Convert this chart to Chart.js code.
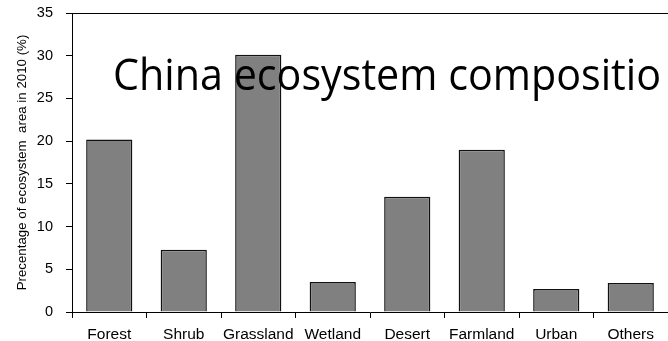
<!DOCTYPE html>
<html>
<head>
<meta charset="utf-8">
<script src="https://cdn.jsdelivr.net/npm/chart.js@4/dist/chart.umd.min.js"></script>
<style>
  html, body { margin: 0; padding: 0; background: #fff; overflow: hidden; }
  #wrap { width: 668px; height: 341px; }
</style>
</head>
<body>
<div id="wrap"><canvas id="c" width="668" height="341"></canvas></div>
<script>
// Ecosystem types and their share of China's land area in 2010 (%)
const categories = ['Forest', 'Shrub', 'Grassland', 'Wetland', 'Desert', 'Farmland', 'Urban', 'Others'];
const shares = [20.2, 7.3, 30.1, 3.5, 13.5, 19.0, 2.7, 3.4];
const yTicks = [0, 5, 10, 15, 20, 25, 30, 35];
const yTitle = 'Precentage of ecosystem  area in 2010 (%)';
const overlayTitle = 'China ecosystem compositio';

const sansFamily = '"Liberation Sans", Arial, sans-serif';

// Large heading painted over the plot, in front of the bars
const overlayTitlePlugin = {
  id: 'overlayTitle',
  afterDatasetsDraw(chart) {
    const { ctx, chartArea } = chart;
    ctx.save();
    ctx.font = '44px "Open Sans", "Noto Sans", sans-serif';
    const w = ctx.measureText(overlayTitle).width;
    ctx.translate(chartArea.left + 41, chartArea.top + 77);
    ctx.scale(548 / w, 1);
    ctx.fillStyle = '#000';
    ctx.textBaseline = 'alphabetic';
    ctx.textAlign = 'left';
    ctx.fillText(overlayTitle, 0, 0);
    ctx.restore();
  }
};

// Thin frame line along the top of the plot
const topLinePlugin = {
  id: 'topLine',
  beforeDatasetsDraw(chart) {
    const { ctx, chartArea } = chart;
    ctx.save();
    ctx.strokeStyle = '#000';
    ctx.lineWidth = 1;
    ctx.beginPath();
    ctx.moveTo(chartArea.left, chartArea.top + 0.5);
    ctx.lineTo(chartArea.right, chartArea.top + 0.5);
    ctx.stroke();
    ctx.restore();
  }
};

new Chart(document.getElementById('c'), {
  type: 'bar',
  data: {
    labels: categories,
    datasets: [{
      data: shares,
      backgroundColor: '#808080',
      borderColor: '#111',
      borderWidth: 1.5,
      categoryPercentage: 1,
      barPercentage: 0.62
    }]
  },
  options: {
    responsive: false,
    devicePixelRatio: 1,
    animation: false,
    layout: { padding: { top: 13, right: 0, left: 0, bottom: 0 } },
    plugins: { legend: { display: false }, tooltip: { enabled: false }, title: { display: false } },
    scales: {
      x: {
        grid: { drawOnChartArea: false, drawTicks: true, tickLength: 6, color: '#000', offset: true },
        border: { color: '#000', width: 1 },
        ticks: { color: '#000', font: { family: sansFamily, size: 15.5 }, padding: 7, maxRotation: 0, autoSkip: false },
        afterFit(scale) {
          scale.height = 29;
          scale.paddingLeft = 0;
          scale.paddingRight = 0;
        }
      },
      y: {
        min: 0,
        max: 35,
        afterBuildTicks(scale) { scale.ticks = yTicks.map(v => ({ value: v })); },
        grid: { drawOnChartArea: false, drawTicks: true, tickLength: 6, color: '#000' },
        border: { color: '#000', width: 1 },
        ticks: { color: '#000', font: { family: sansFamily, size: 14.5 }, padding: 13 },
        title: { display: true, text: yTitle, color: '#000', font: { family: sansFamily, size: 13.3 }, padding: { top: 14, bottom: 0 } },
        afterFit(scale) {
          scale.width = 72;
          scale.paddingTop = 0;
          scale.paddingBottom = 0;
        }
      }
    }
  },
  plugins: [topLinePlugin, overlayTitlePlugin]
});
</script>
</body>
</html>
